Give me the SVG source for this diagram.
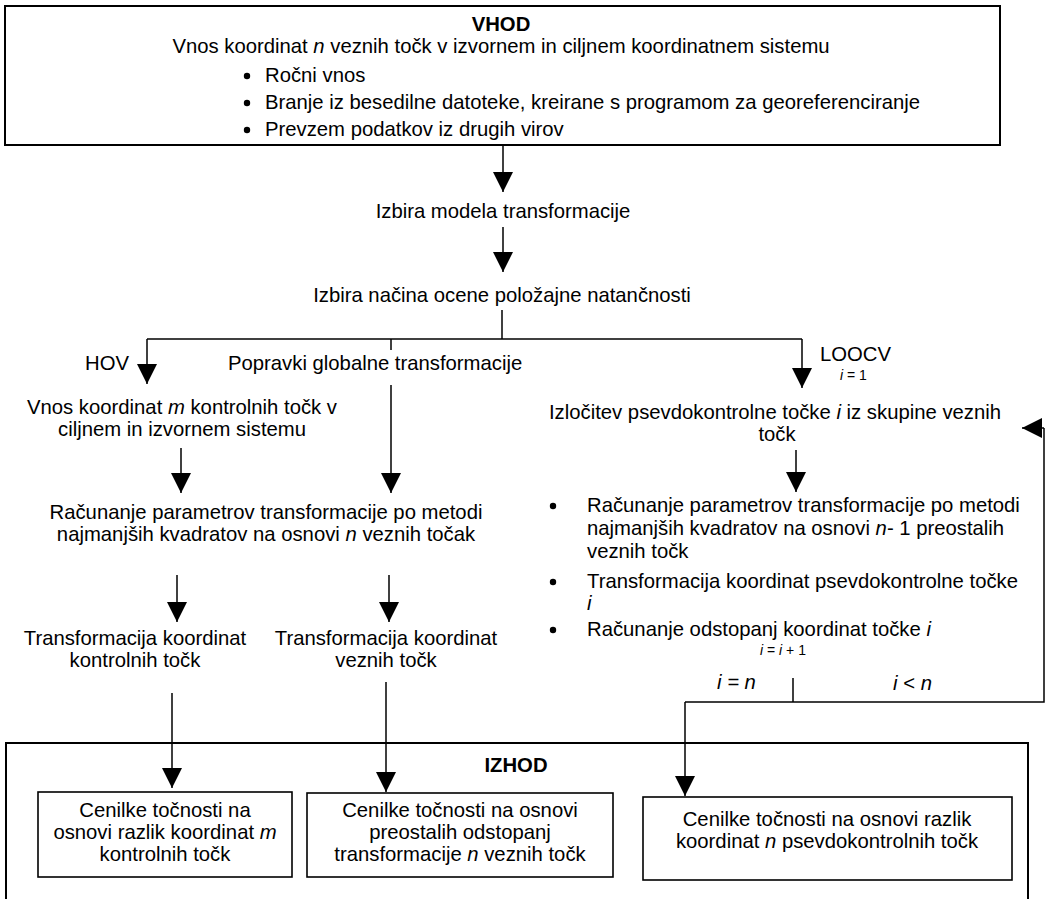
<svg xmlns="http://www.w3.org/2000/svg" width="1051" height="899" viewBox="0 0 1051 899">
<style>
text{font-family:"Liberation Sans",Arial,sans-serif;font-size:20.3px;fill:#000}
.c{text-anchor:middle}
.b{font-weight:bold}
.s{font-size:14px}
.i{font-style:italic}
.box{fill:none;stroke:#000;stroke-width:2}
.ibox{fill:#fff;stroke:#000;stroke-width:1.6}
.ln{fill:none;stroke:#000;stroke-width:1.5}
.ar{fill:none;stroke:#000;stroke-width:1.5;marker-end:url(#ah)}
</style>
<defs>
<marker id="ah" markerUnits="userSpaceOnUse" markerWidth="20" markerHeight="20" refX="20" refY="10" orient="auto">
<path d="M0,0 L20,10 L0,20 Z" fill="#000"/>
</marker>
</defs>
<rect width="1051" height="899" fill="#fff"/>

<g id="vhod">
<rect class="box" x="5" y="6" width="995" height="139"/>
<text class="c b" x="501" y="31">VHOD</text>
<text class="c" x="501" y="53">Vnos koordinat <tspan class="i">n</tspan> veznih točk v izvornem in ciljnem koordinatnem sistemu</text>
<circle cx="247" cy="76" r="3.2"/>
<text x="265" y="82">Ročni vnos</text>
<circle cx="247" cy="103" r="3.2"/>
<text x="265" y="109">Branje iz besedilne datoteke, kreirane s programom za georeferenciranje</text>
<circle cx="247" cy="130" r="3.2"/>
<text x="265" y="136">Prevzem podatkov iz drugih virov</text>
</g>

<g id="izbira-modela">
<text class="c" x="503" y="218">Izbira modela transformacije</text>
</g>

<g id="izbira-nacina">
<text class="c" x="502" y="302">Izbira načina ocene položajne natančnosti</text>
</g>

<g id="hov-label">
<text x="85" y="370">HOV</text>
</g>

<g id="popravki-label">
<text x="228" y="370">Popravki globalne transformacije</text>
</g>

<g id="loocv-label">
<text x="820" y="361">LOOCV</text>
<text class="s" x="840" y="380"><tspan class="i">i</tspan> = 1</text>
</g>

<g id="vnos-kontrolnih">
<text class="c" x="182" y="414">Vnos koordinat <tspan class="i">m</tspan> kontrolnih točk v</text>
<text class="c" x="182" y="436">ciljnem in izvornem sistemu</text>
</g>

<g id="izlocitev">
<text class="c" x="775" y="419">Izločitev psevdokontrolne točke <tspan class="i">i</tspan> iz skupine veznih</text>
<text class="c" x="777" y="441">točk</text>
</g>

<g id="racunanje">
<text class="c" x="266" y="519">Računanje parametrov transformacije po metodi</text>
<text class="c" x="266" y="541">najmanjših kvadratov na osnovi <tspan class="i">n</tspan> veznih točak</text>
</g>

<g id="loocv-koraki">
<circle cx="553" cy="506" r="3.2"/>
<text x="587" y="512">Računanje parametrov transformacije po metodi</text>
<text x="587" y="535">najmanjših kvadratov na osnovi <tspan class="i">n</tspan>- 1 preostalih</text>
<text x="587" y="558">veznih točk</text>
<circle cx="553" cy="582" r="3.2"/>
<text x="587" y="588">Transformacija koordinat psevdokontrolne točke</text>
<text class="i" x="587" y="610">i</text>
<circle cx="553" cy="630" r="3.2"/>
<text x="587" y="636">Računanje odstopanj koordinat točke <tspan class="i">i</tspan></text>
<text class="c s" x="783" y="655"><tspan class="i">i</tspan> = <tspan class="i">i</tspan> + 1</text>
</g>

<g id="transf-kontrolnih">
<text class="c" x="135" y="645">Transformacija koordinat</text>
<text class="c" x="135" y="667">kontrolnih točk</text>
</g>

<g id="transf-veznih">
<text class="c" x="386" y="645">Transformacija koordinat</text>
<text class="c" x="386" y="667">veznih točk</text>
</g>

<g id="pogoj-labels">
<text class="i" x="717" y="689">i = n</text>
<text x="893" y="690"><tspan class="i">i</tspan> &lt; <tspan class="i">n</tspan></text>
</g>

<g id="izhod">
<rect class="box" x="6" y="743" width="1022" height="200"/>
<text class="c b" x="516" y="772">IZHOD</text>
</g>

<g id="cenilke-kontrolne">
<rect class="ibox" x="38" y="792" width="254" height="85"/>
<text class="c" x="165" y="817">Cenilke točnosti na</text>
<text class="c" x="165" y="839">osnovi razlik koordinat <tspan class="i">m</tspan></text>
<text class="c" x="165" y="861">kontrolnih točk</text>
</g>

<g id="cenilke-vezne">
<rect class="ibox" x="307" y="793" width="306" height="84"/>
<text class="c" x="460" y="817">Cenilke točnosti na osnovi</text>
<text class="c" x="460" y="839">preostalih odstopanj</text>
<text class="c" x="460" y="861">transformacije <tspan class="i">n</tspan> veznih točk</text>
</g>

<g id="cenilke-psevdo">
<rect class="ibox" x="643" y="797" width="369" height="83"/>
<text class="c" x="827" y="826">Cenilke točnosti na osnovi razlik</text>
<text class="c" x="827" y="848">koordinat <tspan class="i">n</tspan> psevdokontrolnih točk</text>
</g>

<g id="connectors">
<path class="ar" d="M503,145 V192"/>
<path class="ar" d="M503,227 V272"/>
<path class="ln" d="M502,310 V339"/>
<path class="ln" d="M147,339 H802"/>
<path class="ar" d="M147,339 V384"/>
<path class="ln" d="M391,339 V350"/>
<path class="ar" d="M802,339 V388"/>
<path class="ar" d="M181,448 V493"/>
<path class="ar" d="M391,385 V493"/>
<path class="ar" d="M796,450 V492"/>
<path class="ar" d="M177,575 V622"/>
<path class="ar" d="M389,575 V622"/>
<path class="ar" d="M172,693 V788"/>
<path class="ar" d="M386,682 V792"/>
<path class="ln" d="M793,678 V702"/>
<path class="ln" d="M685,702 H1044 V428"/>
<path class="ar" d="M1044,428 H1022"/>
<path class="ar" d="M685,702 V796"/>
</g>
</svg>
